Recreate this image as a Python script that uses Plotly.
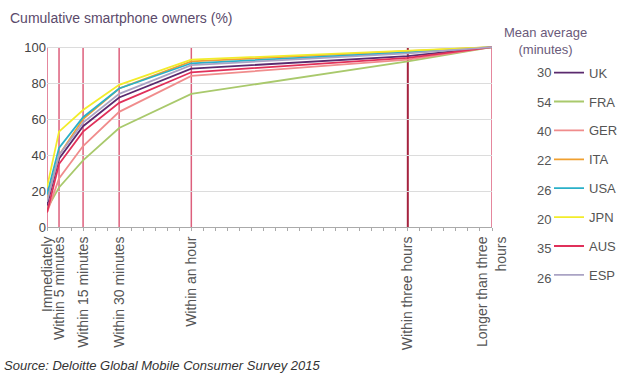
import plotly.graph_objects as go

# ---- data ----
categories = ["Immediately", "Within 5 minutes", "Within 15 minutes", "Within 30 minutes",
              "Within an hour", "Within three hours", "Longer than three<br>hours"]
cat_pos = [0, 5, 15, 30, 60, 150, 185]  # position on the time axis

countries = ["UK", "FRA", "GER", "ITA", "USA", "JPN", "AUS", "ESP"]
mean_minutes = [30, 54, 40, 22, 26, 20, 35, 26]

uk  = [12, 38, 56, 72, 88, 95, 100]
fra = [10, 22, 37, 55, 74, 92, 100]
ger = [8, 27, 45, 64, 84, 93, 100]
ita = [15, 40, 60, 77, 92, 97.5, 100]
usa = [18, 44, 61, 77, 91, 97, 100]
jpn = [22, 53, 65, 79, 93, 98, 100]
aus = [8, 35, 53, 69, 86, 94, 100]
esp = [14, 40, 58, 74, 90, 96.5, 100]

series = [uk, fra, ger, ita, usa, jpn, aus, esp]
colors = ["#5b2a6e", "#a9c96c", "#f08c8c", "#f0a030", "#2ab0c8", "#f2ec2a", "#e0305a", "#aaa3c4"]

fig = go.Figure()
for i, (name, vals) in enumerate(zip(countries, series)):
    fig.add_trace(go.Scatter(
        x=cat_pos, y=vals, mode="lines", name=name,
        line=dict(color=colors[i], width=1.8),
        legendgroup=name, showlegend=True,
    ))

# vertical red category lines
for p in cat_pos:
    dark = (p == 150)
    fig.add_shape(type="line", xref="x", yref="y", x0=p, x1=p, y0=0, y1=100,
                  line=dict(color="#a5233f" if dark else "#dd5f7c", width=2 if dark else 1.5),
                  layer="below")

PH = 180.6
fig.update_layout(
    width=640, height=374,
    margin=dict(l=47, r=148, t=46, b=147),
    paper_bgcolor="white", plot_bgcolor="white",
    font=dict(family="Liberation Sans, Arial, sans-serif", size=13, color="#555"),
    showlegend=True,
    legend=dict(x=(549 - 47) / 445, xanchor="left", y=(227 - 58) / PH, yanchor="top",
                font=dict(size=13, color="#555"), tracegroupgap=9,
                bgcolor="rgba(0,0,0,0)", maxheight=360),
    xaxis=dict(range=[0, 185], tickmode="array", tickvals=cat_pos, ticktext=categories,
               tickangle=-90, showgrid=False, zeroline=False, automargin=False,
               showline=True, linecolor="#aaaaaa", linewidth=1,
               ticks="outside", ticklen=3, tickcolor="#aaaaaa",
               minor=dict(dtick=5, ticks="outside", ticklen=3, tickcolor="#aaaaaa"),
               tickfont=dict(size=14, color="#555")),
    yaxis=dict(range=[0, 100.6], tickvals=[0, 20, 40, 60, 80, 100], automargin=False,
               showgrid=True, gridcolor="#dcdcdc", gridwidth=1, zeroline=False,
               showline=False, ticks="", tickfont=dict(size=13, color="#444")),
)

# title
fig.add_annotation(text="Cumulative smartphone owners (%)", xref="paper", yref="paper",
                   x=(8 - 47) / 445, y=(227 - 18) / PH, xanchor="left", yanchor="middle",
                   showarrow=False, font=dict(size=14, color="#5b4a6b"))
# legend header
fig.add_annotation(text="Mean average<br>(minutes)", xref="paper", yref="paper",
                   x=(545 - 47) / 445, y=(227 - 41) / PH, xanchor="center", yanchor="middle",
                   showarrow=False, font=dict(size=13, color="#6a5a7a"))
# mean numbers next to legend entries
for i, m in enumerate(mean_minutes):
    ypx = 73 + i * 29.3
    fig.add_annotation(text=str(m), xref="paper", yref="paper",
                       x=(553 - 47) / 445, y=(227 - ypx) / PH,
                       xanchor="right", yanchor="middle", showarrow=False,
                       font=dict(size=13, color="#555"))
# source
fig.add_annotation(text="<i>Source: Deloitte Global Mobile Consumer Survey 2015</i>",
                   xref="paper", yref="paper", x=(2 - 47) / 445, y=(227 - 365) / PH,
                   xanchor="left", yanchor="middle", showarrow=False,
                   font=dict(size=13, color="#333"))

fig.write_html("out.html", config={"displayModeBar": False},
               post_script="document.body.style.margin='0';")
